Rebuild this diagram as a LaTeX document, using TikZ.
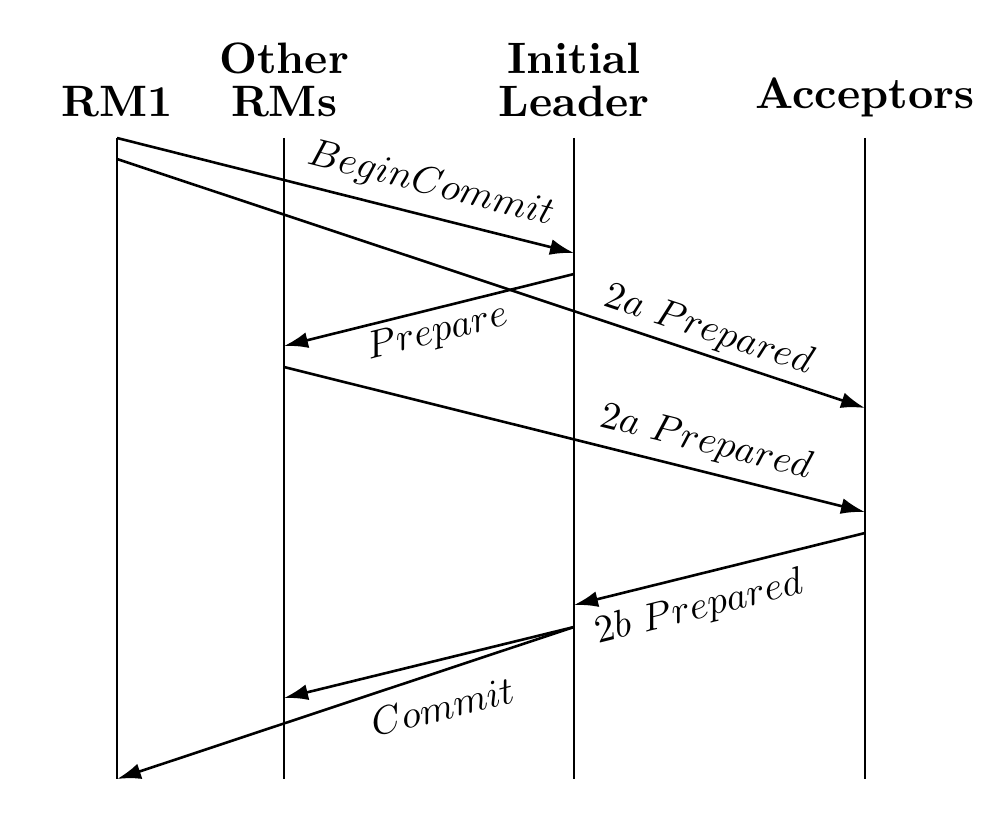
\documentclass[tikz,border=0pt]{standalone}
\usepackage{fix-cm}
\DeclareFontShape{OML}{cmm}{m}{it}{<->cmmi10}{\skewchar\font'177}
\DeclareFontShape{OT1}{cmr}{m}{n}{<->cmr10}{}
\usetikzlibrary{arrows.meta}
\begin{document}
\DeclareFontShape{TU}{lmr}{bx}{n}{<->\UnicodeFontFile{lmroman10-bold}{\UnicodeFontTeXLigatures}}{}
\begin{tikzpicture}[x=1pt,y=-1pt,
  life/.style={line width=2.6pt},
  msg/.style={line width=2.6pt,-{Latex[length=24pt,width=16pt]}},
  head/.style={anchor=south,inner sep=0pt,align=center,font=\fontsize{44}{43}\selectfont\bfseries},
  lab/.style={sloped,inner xsep=0pt,font=\fontsize{39}{40}\selectfont}]
\useasboundingbox (0,0) rectangle (986,824);
% headers
\node[head] (hR1) at (117,117) {RM1};
\node[head] (hOR) at (284,117) {Other\\RMs};
\node[head] (hIL) at (574,117) {Initial\\Leader};
\node[head] (hAC) at (865,117) {Acceptors};
% lifeline ends
\coordinate (r1t) at (117,138); \coordinate (r1b) at (117,779);
\coordinate (ort) at (284,138); \coordinate (orb) at (284,779);
\coordinate (ilt) at (574,138); \coordinate (ilb) at (574,779);
\coordinate (act) at (865,138); \coordinate (acb) at (865,779);
\draw[life] (r1t) -- (r1b);
\draw[life] (ort) -- (orb);
\draw[life] (ilt) -- (ilb);
\draw[life] (act) -- (acb);
% message ends
\coordinate (m1s) at (117,138); \coordinate (m1e) at (574,253);
\coordinate (m2s) at (117,159); \coordinate (m2e) at (865,408);
\coordinate (m3s) at (574,274); \coordinate (m3e) at (284,346);
\coordinate (m4s) at (284,367); \coordinate (m4e) at (865,512);
\coordinate (m5s) at (865,533); \coordinate (m5e) at (574,605);
\coordinate (m6s) at (574,627); \coordinate (m6e) at (284,698);
\coordinate (m7e) at (117,779);
% messages
\draw[msg] (m1s) -- node[lab,pos=0.670,anchor=south,inner ysep=12.4pt] (l1) {$BeginCommit$} (m1e);
\draw[msg] (m2s) -- node[lab,pos=0.781,anchor=south,inner ysep=5.4pt] (l2) {$2a\ Prepared$} (m2e);
\draw[msg] (m3s) -- node[lab,pos=0.492,anchor=north,inner ysep=5.4pt] (l3) {$Prepare$} (m3e);
\draw[msg] (m4s) -- node[lab,pos=0.714,anchor=south,inner ysep=9.9pt] (l4) {$2a\ Prepared$} (m4e);
\draw[msg] (m5s) -- node[lab,pos=0.598,anchor=north,inner ysep=14.9pt] (l5) {$2b\ Prepared$} (m5e);
\draw[msg] (m6s) -- node[lab,pos=0.492,anchor=north,inner ysep=31.4pt] (l6) {$Commit$} (m6e);
\draw[msg] (m6s) -- (m7e);
\end{tikzpicture}
\end{document}
